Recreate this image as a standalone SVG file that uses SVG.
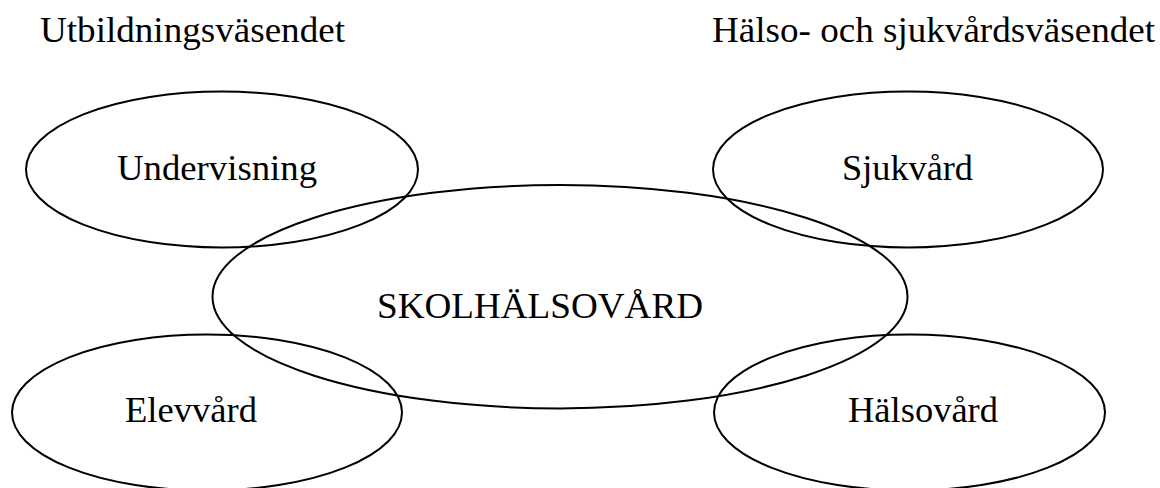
<svg xmlns="http://www.w3.org/2000/svg" width="1160" height="488" viewBox="0 0 1160 488">
  <style>
    .bg { fill: #ffffff; }
    .oval { fill: none; stroke: #000000; stroke-width: 2; }
    .lbl { font-family: "Liberation Serif", "Times New Roman", serif; font-size: 36px; fill: #000000; }
  </style>
  <rect class="bg" x="0" y="0" width="1160" height="488"/>
  <g id="heading-utbildning">
    <text class="lbl" x="40" y="42" textLength="305" lengthAdjust="spacingAndGlyphs">Utbildningsväsendet</text>
  </g>
  <g id="heading-halso">
    <text class="lbl" x="712" y="42" textLength="443" lengthAdjust="spacingAndGlyphs">Hälso- och sjukvårdsväsendet</text>
  </g>
  <g id="connectors"></g>
  <g id="node-undervisning">
    <ellipse class="oval" cx="222" cy="169.5" rx="196" ry="78"/>
    <text class="lbl" x="117" y="180" textLength="200" lengthAdjust="spacingAndGlyphs">Undervisning</text>
  </g>
  <g id="node-sjukvard">
    <ellipse class="oval" cx="908" cy="169.5" rx="195" ry="78"/>
    <text class="lbl" x="842" y="180" textLength="131" lengthAdjust="spacingAndGlyphs">Sjukvård</text>
  </g>
  <g id="node-skolhalsovard">
    <ellipse class="oval" cx="560" cy="296.7" rx="347.5" ry="111.7"/>
    <text class="lbl" x="377" y="318" textLength="326" lengthAdjust="spacingAndGlyphs">SKOLHÄLSOVÅRD</text>
  </g>
  <g id="node-elevvard">
    <ellipse class="oval" cx="207" cy="412.5" rx="195" ry="78"/>
    <text class="lbl" x="125" y="422" textLength="132" lengthAdjust="spacingAndGlyphs">Elevvård</text>
  </g>
  <g id="node-halsovard">
    <ellipse class="oval" cx="909.5" cy="412.5" rx="195.5" ry="78"/>
    <text class="lbl" x="848" y="422" textLength="150" lengthAdjust="spacingAndGlyphs">Hälsovård</text>
  </g>
</svg>
